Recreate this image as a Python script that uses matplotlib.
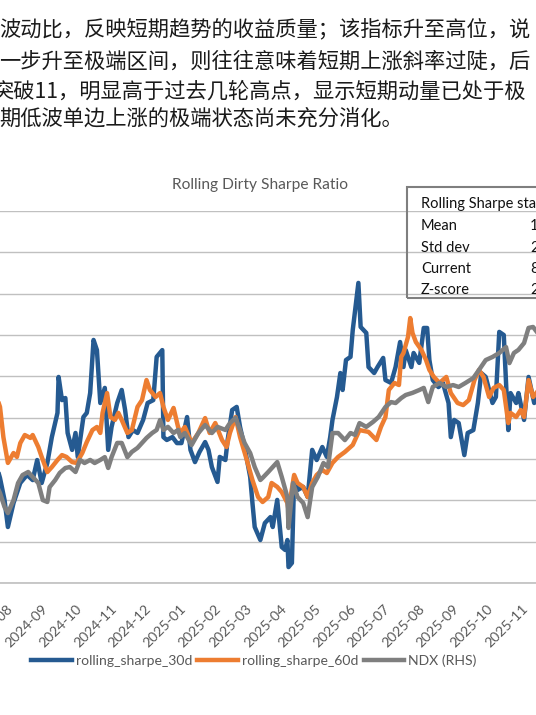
import numpy as np
import pandas as pd
import matplotlib
matplotlib.use('Agg')
import matplotlib.pyplot as plt
import matplotlib.dates as mdates
from matplotlib.patches import Rectangle

# text fonts
cjk_family = ['Noto Sans CJK SC', 'DejaVu Sans']
latin_family = ['Lato', 'DejaVu Sans']

W, H = 536, 715

# paragraph text above the chart (cropped on both sides)
para_lines = [
    "波动比，反映短期趋势的收益质量；该指标升至高位，说",
    "一步升至极端区间，则往往意味着短期上涨斜率过陡，后",
    "突破11，明显高于过去几轮高点，显示短期动量已处于极",
    "期低波单边上涨的极端状态尚未充分消化。",
]

# stats table
stats_title = "Rolling Sharpe stats"
stats_labels = ["Mean", "Std dev", "Current", "Z-score"]
stats_values = ["1.52", "2.74", "8.41", "2.51"]

# rolling 30d sharpe
s30_dates = [
    '2024-07-24', '2024-07-26', '2024-07-30', '2024-08-02', '2024-08-07', '2024-08-13', '2024-08-19',
    '2024-08-24', '2024-08-28', '2024-09-01', '2024-09-06', '2024-09-10', '2024-09-15', '2024-09-16',
    '2024-09-19', '2024-09-22', '2024-09-24', '2024-09-28', '2024-10-01', '2024-10-03', '2024-10-08',
    '2024-10-11', '2024-10-14', '2024-10-17', '2024-10-20', '2024-10-23', '2024-10-27', '2024-10-30',
    '2024-11-02', '2024-11-07', '2024-11-11', '2024-11-14', '2024-11-17', '2024-11-21', '2024-11-25',
    '2024-11-30', '2024-12-04', '2024-12-09', '2024-12-12', '2024-12-17', '2024-12-18', '2024-12-21',
    '2024-12-26', '2024-12-30', '2025-01-03', '2025-01-08', '2025-01-11', '2025-01-15', '2025-01-19',
    '2025-01-24', '2025-01-27', '2025-01-30', '2025-02-04', '2025-02-06', '2025-02-11', '2025-02-13',
    '2025-02-17', '2025-02-21', '2025-02-24', '2025-02-28', '2025-03-05', '2025-03-07', '2025-03-09',
    '2025-03-14', '2025-03-18', '2025-03-23', '2025-03-25', '2025-03-29', '2025-04-02', '2025-04-05',
    '2025-04-07', '2025-04-08', '2025-04-11', '2025-04-13', '2025-04-16', '2025-04-21', '2025-04-25',
    '2025-04-29', '2025-05-03', '2025-05-08', '2025-05-12', '2025-05-15', '2025-05-17', '2025-05-21',
    '2025-05-24', '2025-05-26', '2025-05-29', '2025-06-02', '2025-06-04', '2025-06-09', '2025-06-11',
    '2025-06-16', '2025-06-18', '2025-06-23', '2025-06-26', '2025-07-01', '2025-07-03', '2025-07-08',
    '2025-07-12', '2025-07-16', '2025-07-19', '2025-07-21', '2025-07-26', '2025-07-28', '2025-08-02',
    '2025-08-06', '2025-08-09', '2025-08-11', '2025-08-14', '2025-08-19', '2025-08-23', '2025-08-28',
    '2025-08-30', '2025-09-02', '2025-09-06', '2025-09-11', '2025-09-14', '2025-09-19', '2025-09-23',
    '2025-09-26', '2025-09-30', '2025-10-06', '2025-10-09', '2025-10-12', '2025-10-16', '2025-10-20',
    '2025-10-22', '2025-10-27', '2025-10-29', '2025-11-03', '2025-11-07', '2025-11-12', '2025-11-16',
]
s30_values = [
    -0.53, -0.92, -1.98, -3.29, -2.13, -1.16, -0.77,
    -1.02, -0.05, -1.16, -0.19, 1.06, 2.23, 3.97,
    2.85, 2.95, 1.26, 0.44, 1.26, 0.10, 2.03,
    2.23, 3.19, 5.76, 5.27, 2.71, 3.44, 0.44,
    1.55, 2.71, 3.34, 2.37, 1.06, 1.40, 1.26,
    1.89, 2.71, 2.85, 4.94, 5.27, 1.06, 0.92,
    1.06, 0.77, 0.77, 2.03, 0.44, -0.15, 0.34,
    0.82, 0.44, -0.39, -1.11, 0.10, -0.05, 0.92,
    2.37, 2.52, 1.55, 0.58, -0.87, -2.13, -3.29,
    -3.92, -3.10, -2.81, -3.29, -1.98, -4.26, -4.40,
    -3.92, -5.23, -5.03, -0.87, -1.50, -1.35, -1.84,
    0.44, -0.05, 0.58, 0.10, 1.06, 1.89, 3.00,
    4.16, 3.34, 4.79, 4.94, 6.24, 8.52, 6.39,
    6.10, 4.45, 4.16, 4.45, 4.89, 3.82, 3.68,
    4.45, 5.66, 4.45, 5.27, 4.45, 5.13, 4.65,
    6.34, 6.34, 4.79, 3.82, 3.48, 3.68, 2.71,
    1.06, 1.89, 1.74, 0.19, 1.26, 1.40, 2.71,
    4.16, 3.97, 2.71, 3.00, 6.15, 6.00, 1.40,
    3.19, 2.71, 3.19, 1.89, 3.97, 2.71, 3.10,
]

# rolling 60d sharpe
s60_dates = [
    '2024-07-24', '2024-07-26', '2024-07-29', '2024-08-02', '2024-08-07', '2024-08-10', '2024-08-13',
    '2024-08-17', '2024-08-22', '2024-08-24', '2024-08-29', '2024-09-01', '2024-09-06', '2024-09-10',
    '2024-09-15', '2024-09-19', '2024-09-23', '2024-09-28', '2024-10-02', '2024-10-07', '2024-10-11',
    '2024-10-16', '2024-10-20', '2024-10-23', '2024-10-25', '2024-10-29', '2024-11-01', '2024-11-05',
    '2024-11-08', '2024-11-11', '2024-11-16', '2024-11-20', '2024-11-25', '2024-11-29', '2024-12-03',
    '2024-12-06', '2024-12-11', '2024-12-15', '2024-12-18', '2024-12-22', '2024-12-27', '2024-12-31',
    '2025-01-02', '2025-01-06', '2025-01-12', '2025-01-18', '2025-01-24', '2025-01-28', '2025-02-02',
    '2025-02-08', '2025-02-12', '2025-02-15', '2025-02-20', '2025-02-24', '2025-03-02', '2025-03-07',
    '2025-03-12', '2025-03-16', '2025-03-21', '2025-03-24', '2025-03-29', '2025-04-02', '2025-04-07',
    '2025-04-08', '2025-04-13', '2025-04-16', '2025-04-21', '2025-04-25', '2025-04-29', '2025-05-03',
    '2025-05-08', '2025-05-12', '2025-05-17', '2025-05-22', '2025-05-28', '2025-06-04', '2025-06-10',
    '2025-06-18', '2025-06-25', '2025-06-29', '2025-07-03', '2025-07-06', '2025-07-11', '2025-07-15',
    '2025-07-17', '2025-07-19', '2025-07-23', '2025-07-25', '2025-07-27', '2025-07-30', '2025-08-04',
    '2025-08-08', '2025-08-11', '2025-08-15', '2025-08-20', '2025-08-26', '2025-08-30', '2025-09-05',
    '2025-09-10', '2025-09-15', '2025-09-20', '2025-09-24', '2025-09-28', '2025-10-03', '2025-10-07',
    '2025-10-12', '2025-10-16', '2025-10-20', '2025-10-22', '2025-10-27', '2025-10-31', '2025-11-03',
    '2025-11-07', '2025-11-11', '2025-11-16',
]
s60_values = [
    2.85, 2.52, 1.06, -0.19, 0.29, 0.10, 0.77,
    1.16, 1.02, 1.16, 0.58, 0.10, -0.63, -0.39,
    -0.05, 0.19, 0.10, -0.15, -0.19, 0.29, 0.82,
    1.40, 1.55, 1.26, 2.23, 3.19, 2.03, 1.89,
    2.23, 1.89, 1.26, 1.40, 2.52, 2.85, 3.82,
    3.34, 3.00, 3.19, 2.52, 1.89, 2.47, 1.55,
    1.26, 1.55, 0.77, 1.26, 1.98, 1.26, 1.74,
    0.92, 0.58, 1.26, 2.03, 1.06, -0.05, -1.02,
    -1.84, -2.08, -1.84, -1.16, -1.35, -1.60, -2.13,
    -2.47, -0.77, -1.16, -1.35, -1.84, -1.16, -0.77,
    -0.53, -0.68, -0.19, 0.10, 0.34, 0.68, 1.40,
    1.31, 0.92, 1.55, 2.03, 3.34, 3.68, 3.58,
    4.94, 5.13, 5.90, 6.82, 6.10, 5.66, 5.27,
    4.79, 4.31, 3.97, 3.68, 3.97, 3.19, 2.71,
    2.61, 2.85, 3.82, 4.31, 3.97, 3.00, 3.44,
    3.58, 3.34, 1.74, 2.23, 2.03, 2.37, 2.03,
    3.82, 3.00, 3.34,
]

# NDX level (right axis)
ndx_dates = [
    '2024-07-24', '2024-07-26', '2024-07-30', '2024-08-02', '2024-08-07', '2024-08-11', '2024-08-15',
    '2024-08-20', '2024-08-24', '2024-08-29', '2024-09-02', '2024-09-06', '2024-09-08', '2024-09-13',
    '2024-09-17', '2024-09-22', '2024-09-26', '2024-10-01', '2024-10-05', '2024-10-09', '2024-10-14',
    '2024-10-18', '2024-10-23', '2024-10-27', '2024-10-30', '2024-11-02', '2024-11-07', '2024-11-11',
    '2024-11-16', '2024-11-20', '2024-11-25', '2024-11-29', '2024-12-03', '2024-12-08', '2024-12-12',
    '2024-12-15', '2024-12-18', '2024-12-22', '2024-12-27', '2024-12-31', '2025-01-02', '2025-01-06',
    '2025-01-12', '2025-01-18', '2025-01-24', '2025-01-30', '2025-02-04', '2025-02-11', '2025-02-15',
    '2025-02-20', '2025-02-24', '2025-02-28', '2025-03-05', '2025-03-09', '2025-03-14', '2025-03-16',
    '2025-03-21', '2025-03-25', '2025-03-29', '2025-04-02', '2025-04-07', '2025-04-08', '2025-04-12',
    '2025-04-16', '2025-04-21', '2025-04-25', '2025-04-29', '2025-05-04', '2025-05-09', '2025-05-13',
    '2025-05-17', '2025-05-22', '2025-05-28', '2025-06-02', '2025-06-06', '2025-06-10', '2025-06-16',
    '2025-06-22', '2025-06-27', '2025-07-03', '2025-07-08', '2025-07-12', '2025-07-17', '2025-07-21',
    '2025-07-27', '2025-08-02', '2025-08-06', '2025-08-10', '2025-08-14', '2025-08-20', '2025-08-26',
    '2025-09-01', '2025-09-06', '2025-09-12', '2025-09-19', '2025-09-24', '2025-09-30', '2025-10-06',
    '2025-10-12', '2025-10-18', '2025-10-21', '2025-10-25', '2025-10-29', '2025-11-03', '2025-11-07',
    '2025-11-11', '2025-11-15',
]
ndx_values = [
    18770, 18560, 17970, 17710, 18260, 18980, 19320,
    19450, 19240, 18980, 18260, 18180, 18810, 19110,
    19410, 19620, 19660, 19450, 19960, 19830, 19960,
    19830, 19960, 20080, 19620, 20080, 20680, 20680,
    20080, 20300, 20470, 20680, 20890, 21100, 21230,
    21650, 21230, 21360, 21100, 21230, 20930, 21100,
    20590, 21100, 21440, 21100, 21360, 21230, 21520,
    21740, 21230, 20680, 20250, 19660, 19110, 19200,
    19450, 19660, 19870, 19240, 18390, 17080, 18980,
    18390, 18140, 17540, 18810, 19240, 19830, 19660,
    21100, 21100, 20800, 21100, 21020, 21520, 21360,
    21570, 21780, 22200, 22410, 22370, 22580, 22710,
    22800, 22920, 23010, 22410, 23050, 23220, 23050,
    23130, 23050, 23220, 23430, 23770, 24190, 24320,
    24490, 24740, 24060, 24490, 24620, 24910, 25550,
    25590, 25340,
]

series_labels = ["rolling_sharpe_30d", "rolling_sharpe_60d", "NDX (RHS)"]
series_colors = ['#255a91', '#ed7d31', '#7f7f7f']


def fx(x):
    return x / W


def fy(y):
    return 1 - y / H


fig = plt.figure(figsize=(W / 100, H / 100), dpi=100)
fig.patch.set_facecolor('white')

# paragraph
para_x = [-1, -1, -7, -1]
para_y = [29, 62, 91, 118]
for line, x, y in zip(para_lines, para_x, para_y):
    fig.text(fx(x), fy(y), line, family=cjk_family, fontsize=15.3, color='#1a1a1a',
             ha='left', va='center')

# plot area (wider than the crop on both sides)
ax = fig.add_axes([0, fy(583), 1, (583 - 211) / H])
ax2 = ax.twinx()

d30 = pd.to_datetime(s30_dates)
d60 = pd.to_datetime(s60_dates)
dndx = pd.to_datetime(ndx_dates)

lw = 3.2
ax.plot(d30, s30_values, color=series_colors[0], lw=lw, solid_joinstyle='round', label=series_labels[0])
ax.plot(d60, s60_values, color=series_colors[1], lw=lw, solid_joinstyle='round', label=series_labels[1])
ax2.plot(dndx, ndx_values, color=series_colors[2], lw=lw, solid_joinstyle='round', label=series_labels[2])

x_left = mdates.date2num(pd.Timestamp('2024-07-26'))
ax.set_xlim(x_left, x_left + W * 0.8873)
ax.set_ylim(-6, 12)
ax.set_yticks(np.arange(-6, 13, 2))
ax2.set_ylim(14750, 30500)

ax.yaxis.grid(True, color='#c0c0c0', lw=1.0)
ax.set_axisbelow(True)
ax.tick_params(axis='y', left=False, labelleft=False)
ax2.tick_params(axis='y', right=False, labelright=False)
for sp in ['top', 'left', 'right']:
    ax.spines[sp].set_visible(False)
for sp in ax2.spines.values():
    sp.set_visible(False)
ax.spines['bottom'].set_color('#bfbfbf')
ax.spines['bottom'].set_linewidth(1.2)

ax.xaxis.set_major_locator(mdates.MonthLocator())
ax.xaxis.set_major_formatter(mdates.DateFormatter('%Y-%m'))
ax.tick_params(axis='x', length=0, pad=14, labelsize=10.2, labelcolor='#595959')
for lab in ax.get_xticklabels():
    lab.set_family(latin_family)
    lab.set_rotation(45)
    lab.set_ha('right')
    lab.set_va('top')
    lab.set_rotation_mode('anchor')

# title
fig.text(fx(260), fy(185), "Rolling Dirty Sharpe Ratio", family=latin_family, fontsize=11.2,
         color='#595959', ha='center', va='center')

# stats box
fig.patches.append(Rectangle((fx(407), fy(298)), fx(200), (298 - 187) / H, transform=fig.transFigure,
                             fill=False, edgecolor='#7f7f7f', lw=1.5, zorder=5))
fig.text(fx(421), fy(204), stats_title, family=latin_family, fontsize=10.5, color='#111111',
         ha='left', va='center')
row_y = [226, 248, 269, 290]
for lab, val, y in zip(stats_labels, stats_values, row_y):
    fig.text(fx(421), fy(y), lab, family=latin_family, fontsize=10.5, color='#111111', ha='left', va='center')
    fig.text(fx(530), fy(y), val, family=latin_family, fontsize=10.5, color='#111111', ha='left', va='center')

# legend
handles = ax.get_lines() + ax2.get_lines()
leg = fig.legend(handles, series_labels, loc='center', bbox_to_anchor=(fx(254), fy(661)), ncol=3,
                 frameon=False, handlelength=2.9, handletextpad=0.3, columnspacing=0.35,
                 prop={'family': latin_family, 'size': 10.1})
for t in leg.get_texts():
    t.set_color('#595959')

fig.savefig('out.png', dpi=100)
